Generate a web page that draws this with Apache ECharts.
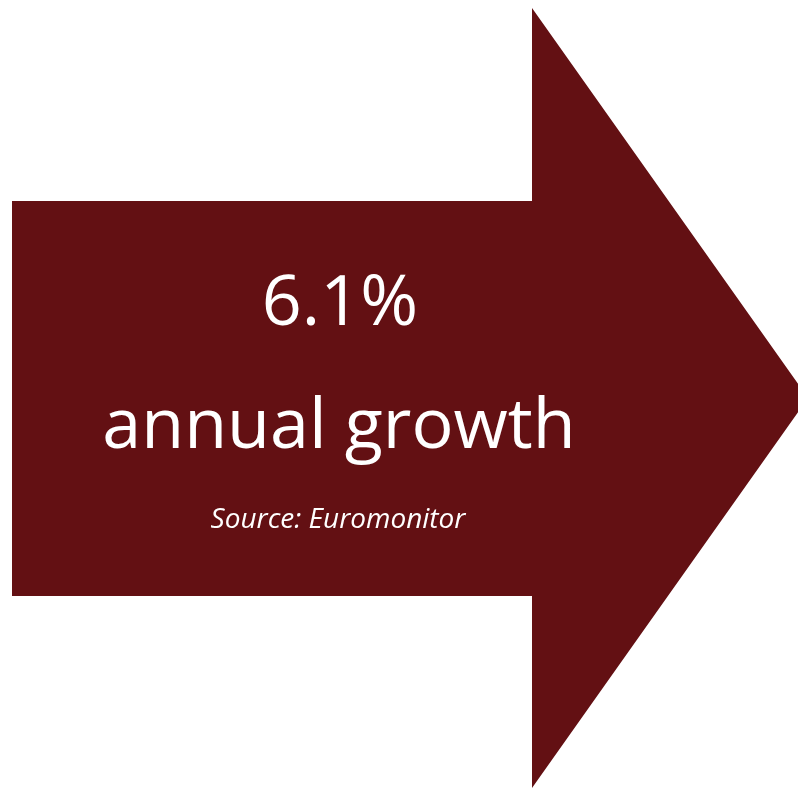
<!DOCTYPE html>
<html>
<head>
<meta charset="utf-8">
<script src="https://cdn.jsdelivr.net/npm/echarts@6/dist/echarts.min.js"></script>
<style>
html,body{margin:0;padding:0;background:#fff;}
#chart{width:798px;height:789px;}
</style>
</head>
<body>
<div id="chart"></div>
<script>
// Content
const growthValue = ['6.1%'];
const growthLabel = ['annual growth'];
const sourceLabel = ['Source: Euromonitor'];

const chart = echarts.init(document.getElementById('chart'), null, {renderer: 'canvas'});
const arrowColor = '#631013';
const option = {
  backgroundColor: '#ffffff',
  animation: false,
  graphic: [
    {
      type: 'polygon',
      shape: {
        points: [[12, 201], [532, 201], [532, 8], [808, 398], [532, 788], [532, 596], [12, 596]]
      },
      style: { fill: arrowColor }
    },
    {
      type: 'text',
      style: {
        text: growthValue[0], fill: '#fff', font: '70px "Open Sans"',
        align: 'center', verticalAlign: 'top', x: 340, y: 270
      }
    },
    {
      type: 'text',
      style: {
        text: growthLabel[0], fill: '#fff', font: '70px "Open Sans"',
        align: 'center', verticalAlign: 'top', x: 339, y: 393
      }
    },
    {
      type: 'text',
      style: {
        text: sourceLabel[0], fill: '#fff', font: 'italic 28px "Open Sans"',
        align: 'center', verticalAlign: 'top', x: 338, y: 506
      }
    }
  ]
};
chart.setOption(option);
</script>
</body>
</html>
